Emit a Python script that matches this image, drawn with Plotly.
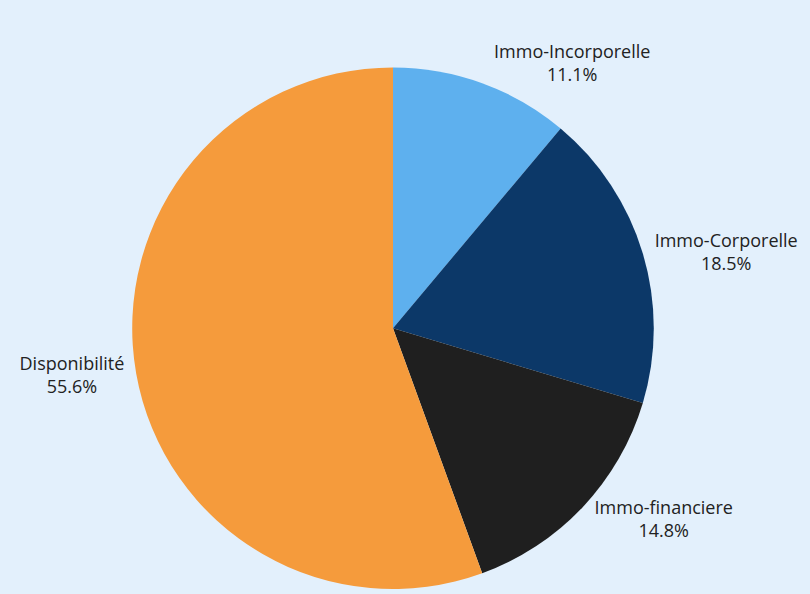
import plotly.graph_objects as go

labels = ["Immo-Incorporelle", "Immo-Corporelle", "Immo-financiere", "Disponibilité"]
values = [3, 5, 4, 15]
colors = ["#5EB0EE", "#0C3868", "#1F1F1F", "#F59B3C"]

fig = go.Figure(go.Pie(
    labels=labels,
    values=values,
    sort=False,
    direction="clockwise",
    rotation=0,
    marker=dict(colors=colors, line=dict(width=0)),
    textposition="outside",
    texttemplate="%{label}<br>%{percent:.1%}",
    textfont=dict(family="Open Sans", size=18, color="#222222"),
    domain=dict(x=[128/810, 658/810], y=[0, 1 - 68/594]),
    showlegend=False,
))

fig.update_layout(
    width=810,
    height=594,
    margin=dict(l=0, r=0, t=0, b=0),
    paper_bgcolor="#E3F0FC",
    plot_bgcolor="#E3F0FC",
)

fig.write_html(
    "out.html",
    config={"displayModeBar": False},
    post_script="document.body.style.margin='0';document.body.style.overflow='hidden';",
)
